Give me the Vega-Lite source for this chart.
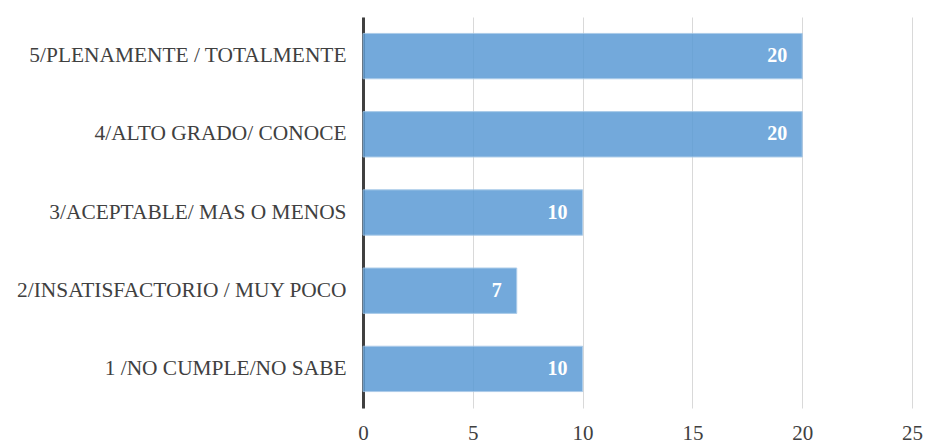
{
  "$schema": "https://vega.github.io/schema/vega-lite/v6.json",
  "autosize": "none",
  "width": 549,
  "height": 391,
  "padding": {"left": 363, "top": 17, "right": 15, "bottom": 35},
  "background": "white",
  "config": {"view": {"stroke": null}, "font": "serif"},
  "data": {"values": [
    {"cat": "5/PLENAMENTE / TOTALMENTE", "v": 20},
    {"cat": "4/ALTO GRADO/ CONOCE", "v": 20},
    {"cat": "3/ACEPTABLE/ MAS O MENOS", "v": 10},
    {"cat": "2/INSATISFACTORIO / MUY POCO", "v": 7},
    {"cat": "1 /NO CUMPLE/NO SABE", "v": 10}
  ]},
  "encoding": {
    "y": {"field": "cat", "type": "nominal", "sort": null,
      "scale": {"paddingInner": 0.42, "paddingOuter": 0.21},
      "axis": {"title": null, "ticks": false, "domainColor": "#404040", "domainWidth": 3,
        "labelFont": "Liberation Serif, Times New Roman, serif", "labelFontSize": 21.4, "labelColor": "#404040", "labelPadding": 17, "labelLimit": 400}},
    "x": {"field": "v", "type": "quantitative", "scale": {"domain": [0, 25]},
      "axis": {"title": null, "values": [0, 5, 10, 15, 20, 25], "domain": false, "ticks": false,
        "gridColor": "#d9d9d9", "gridWidth": 1, "labelFlush": false,
        "labelFont": "Liberation Serif, Times New Roman, serif", "labelFontSize": 21, "labelColor": "#404040", "labelPadding": 14}}
  },
  "layer": [
    {"mark": {"type": "bar", "color": "#5b9bd5", "opacity": 0.85, "stroke": "#9dc3e6", "strokeWidth": 1}},
    {"mark": {"type": "text", "align": "right", "dx": -15, "font": "Liberation Serif, Times New Roman, serif", "fontSize": 20, "fontWeight": "bold", "color": "white"},
      "encoding": {"text": {"field": "v"}}}
  ]
}
